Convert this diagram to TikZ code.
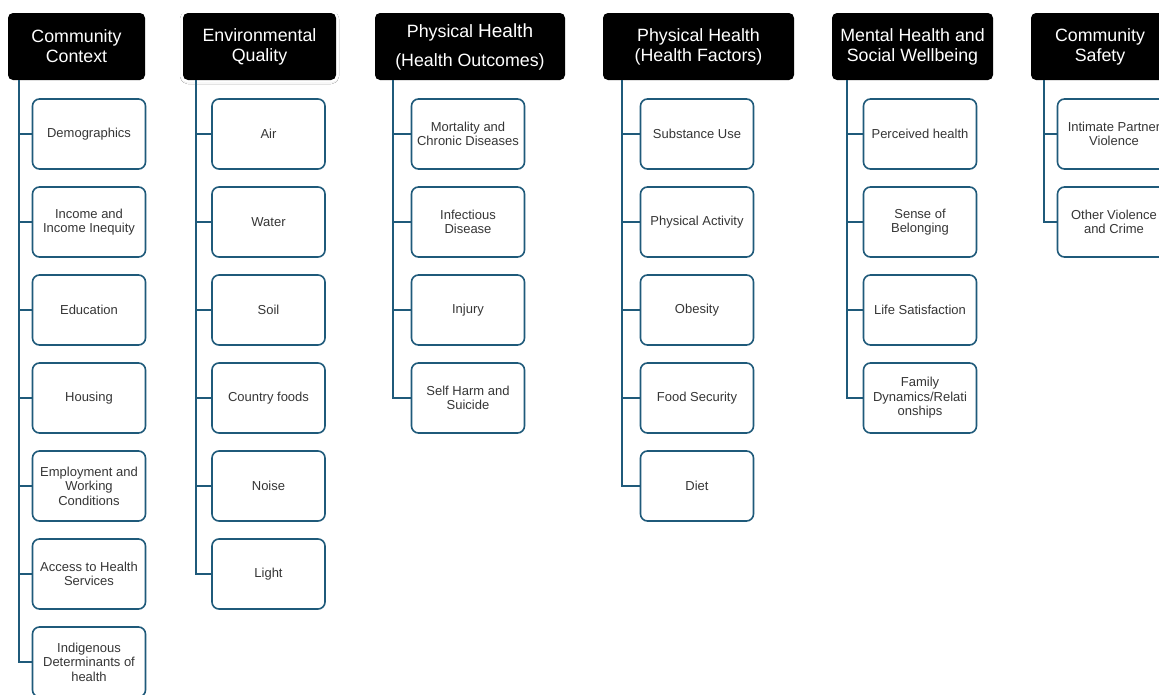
\documentclass[tikz,border=0pt]{standalone}
\usepackage{fontspec}
\setmainfont{Liberation Sans}
\usepackage{tikz}
\usetikzlibrary{positioning,shadows.blur}
\definecolor{linkblue}{HTML}{1F5A7A}
\definecolor{textgray}{HTML}{363636}
\tikzset{
    head/.style={fill=black, text=white, rounded corners=5pt, minimum height=67pt, align=center, inner sep=2pt, font=\fontsize{17.8}{20}\selectfont},
    item/.style={draw=linkblue, line width=1.6pt, fill=white, rounded corners=7pt, minimum width=113pt, minimum height=70pt, align=center, inner sep=1pt, text=textgray, font=\fontsize{13}{14.5}\selectfont},
    link/.style={draw=linkblue, line width=1.6pt}
}

\begin{document}
\begin{tikzpicture}[x=1pt, y=-1pt]
        \clip (0,0) rectangle (1159,694);
        \fill[white] (0,0) rectangle (1159,694);

        % headers
        \node (cc) [head, minimum width=137pt] at (76.5,46.5) {Community\\Context};
        \node (env) [head, minimum width=153pt, blur shadow={shadow xshift=0pt, shadow yshift=-1pt, shadow blur radius=3pt, shadow opacity=35}, preaction={draw=white, line width=5pt}] at (259.5,46.5) {Environmental\\Quality};
        \node (pho) [head, minimum width=190pt] at (470,46.5) {Physical {\fontsize{19}{20}\selectfont Health}\\[9pt](Health Outcomes)};
        \node (phf) [head, minimum width=191pt] at (698.5,46.5) {Physical Health\\(Health Factors)};
        \node (mhs) [head, minimum width=161pt] at (912.5,46.5) {Mental Health and\\Social Wellbeing};
        \node (cs) [head, minimum width=138pt] at (1100,46.5) {Community\\Safety};

        % community context
        \node (ccp1) [item] at (89,134) {Demographics};
        \node (ccp2) [item, below=16.4pt of ccp1] {Income and\\Income Inequity};
        \node (ccp3) [item, below=16.4pt of ccp2] {Education};
        \node (ccp4) [item, below=16.4pt of ccp3] {Housing};
        \node (ccp5) [item, below=16.4pt of ccp4] {Employment and\\Working\\Conditions};
        \node (ccp6) [item, below=16.4pt of ccp5] {Access to Health\\Services};
        \node (ccp7) [item, below=16.4pt of ccp6] {Indigenous\\Determinants of\\health};

        % environmental quality
        \node (envp1) [item] at (268.5,134) {Air};
        \node (envp2) [item, below=16.4pt of envp1] {Water};
        \node (envp3) [item, below=16.4pt of envp2] {Soil};
        \node (envp4) [item, below=16.4pt of envp3] {Country foods};
        \node (envp5) [item, below=16.4pt of envp4] {Noise};
        \node (envp6) [item, below=16.4pt of envp5] {Light};

        % health outcomes
        \node (phop1) [item] at (468,134) {Mortality and\\Chronic Diseases};
        \node (phop2) [item, below=16.4pt of phop1] {Infectious\\Disease};
        \node (phop3) [item, below=16.4pt of phop2] {Injury};
        \node (phop4) [item, below=16.4pt of phop3] {Self Harm and\\Suicide};

        % health factors
        \node (phfp1) [item] at (697,134) {Substance Use};
        \node (phfp2) [item, below=16.4pt of phfp1] {Physical Activity};
        \node (phfp3) [item, below=16.4pt of phfp2] {Obesity};
        \node (phfp4) [item, below=16.4pt of phfp3] {Food Security};
        \node (phfp5) [item, below=16.4pt of phfp4] {Diet};

        % mental health
        \node (mhsp1) [item] at (920,134) {Perceived health};
        \node (mhsp2) [item, below=16.4pt of mhsp1] {Sense of\\Belonging};
        \node (mhsp3) [item, below=16.4pt of mhsp2] {Life Satisfaction};
        \node (mhsp4) [item, below=16.4pt of mhsp3] {Family\\Dynamics/Relati\\onships};

        % community safety
        \node (csp1) [item] at (1114,134) {Intimate Partner\\Violence};
        \node (csp2) [item, below=16.4pt of csp1] {Other Violence\\and Crime};

\draw [link] ([xshift=11pt]cc.south west) |- (ccp1.west);
\draw [link] ([xshift=11pt]cc.south west) |- (ccp2.west);
\draw [link] ([xshift=11pt]cc.south west) |- (ccp3.west);
\draw [link] ([xshift=11pt]cc.south west) |- (ccp4.west);
\draw [link] ([xshift=11pt]cc.south west) |- (ccp5.west);
\draw [link] ([xshift=11pt]cc.south west) |- (ccp6.west);
\draw [link] ([xshift=11pt]cc.south west) |- (ccp7.west);

\draw [link] ([xshift=13pt]env.south west) |- (envp1.west);
\draw [link] ([xshift=13pt]env.south west) |- (envp2.west);
\draw [link] ([xshift=13pt]env.south west) |- (envp3.west);
\draw [link] ([xshift=13pt]env.south west) |- (envp4.west);
\draw [link] ([xshift=13pt]env.south west) |- (envp5.west);
\draw [link] ([xshift=13pt]env.south west) |- (envp6.west);

\draw [link] ([xshift=18pt]pho.south west) |- (phop1.west);
\draw [link] ([xshift=18pt]pho.south west) |- (phop2.west);
\draw [link] ([xshift=18pt]pho.south west) |- (phop3.west);
\draw [link] ([xshift=18pt]pho.south west) |- (phop4.west);

\draw [link] ([xshift=19pt]phf.south west) |- (phfp1.west);
\draw [link] ([xshift=19pt]phf.south west) |- (phfp2.west);
\draw [link] ([xshift=19pt]phf.south west) |- (phfp3.west);
\draw [link] ([xshift=19pt]phf.south west) |- (phfp4.west);
\draw [link] ([xshift=19pt]phf.south west) |- (phfp5.west);

\draw [link] ([xshift=15pt]mhs.south west) |- (mhsp1.west);
\draw [link] ([xshift=15pt]mhs.south west) |- (mhsp2.west);
\draw [link] ([xshift=15pt]mhs.south west) |- (mhsp3.west);
\draw [link] ([xshift=15pt]mhs.south west) |- (mhsp4.west);

\draw [link] ([xshift=13pt]cs.south west) |- (csp1.west);
\draw [link] ([xshift=13pt]cs.south west) |- (csp2.west);
    \end{tikzpicture}
\end{document}
